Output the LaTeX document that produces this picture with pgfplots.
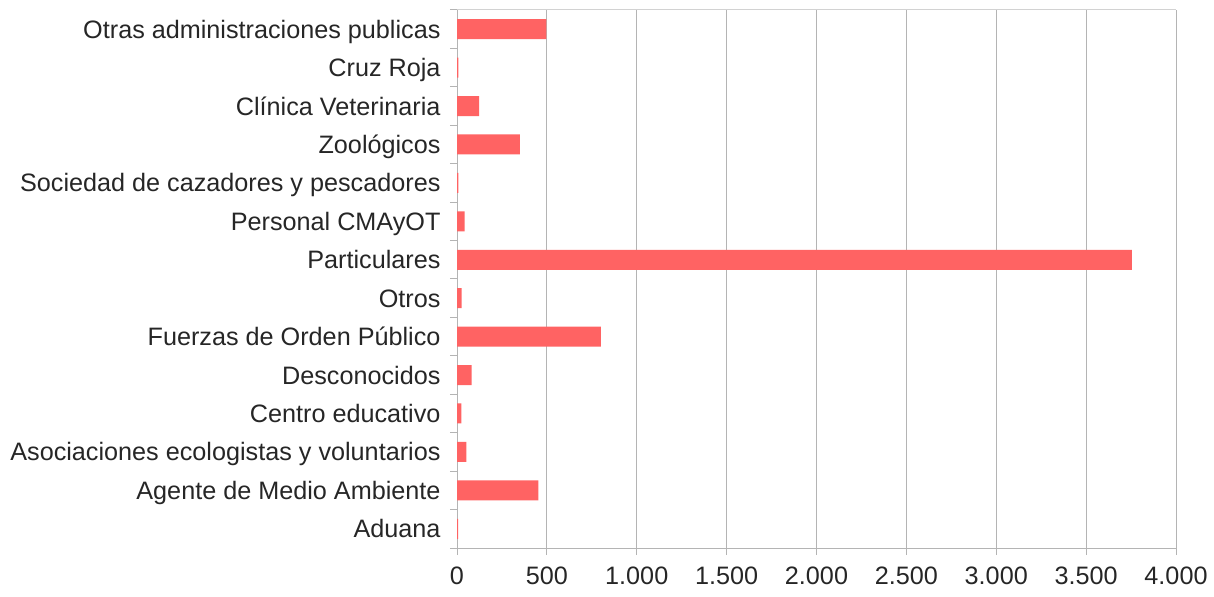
\documentclass[border=0pt]{standalone}
\usepackage{pgfplots}
\pgfplotsset{compat=1.18}
\usepackage{fontspec}
\setmainfont{Liberation Sans}
\definecolor{barred}{HTML}{FF6363}
\definecolor{gridgray}{HTML}{B4B4B4}
\begin{document}
\begin{tikzpicture}
\begin{axis}[
  at={(457bp,49bp)}, anchor=south west,
  scale only axis,
  width=719bp, height=538bp,
  xbar, bar width=20bp,
  xmin=0, xmax=4000,
  ymin=-0.5, ymax=13.5,
  xtick={0,500,...,4000},
  ytick={0,...,13},
  yticklabels={Aduana,Agente de Medio Ambiente,Asociaciones ecologistas y voluntarios,Centro educativo,Desconocidos,Fuerzas de Orden Público,Otros,Particulares,Personal CMAyOT,Sociedad de cazadores y pescadores,Zoológicos,Clínica Veterinaria,Cruz Roja,Otras administraciones publicas},
  minor ytick={-0.5,0.5,...,13.5},
  axis x line*=bottom, axis y line*=left,
  axis line style={draw=gridgray, line width=1pt, -},
  xmajorgrids, major grid style={draw=gridgray, line width=1pt},
  y tick style={draw=none},
  minor y tick style={draw=gridgray, line width=1pt},
  minor tick length=7bp,
  x tick style={draw=gridgray, line width=1pt},
  major tick length=7bp,
  xtick align=outside, ytick align=outside,
  tick label style={font=\fontsize{25.3}{30}\selectfont, text=black!85},
  yticklabel style={anchor=base east, xshift=-6bp, yshift=-9bp},
  xticklabel style={yshift=-8bp},
  after end axis/.code={\draw[gridgray!60, line width=1pt] (rel axis cs:0,1) -- (rel axis cs:1,1);},
  /pgf/number format/.cd, 1000 sep={.}, assume math mode=true,
]
\addplot[fill=barred, draw=none] coordinates {
  (6,0) (453,1) (52,2) (24,3) (82,4) (800,5) (26,6) (3755,7) (43,8) (8,9) (350,10) (123,11) (8,12) (497,13)
};
\end{axis}
\pgfresetboundingbox
\useasboundingbox (0,0) rectangle (1214bp,597bp);
\end{tikzpicture}
\end{document}
